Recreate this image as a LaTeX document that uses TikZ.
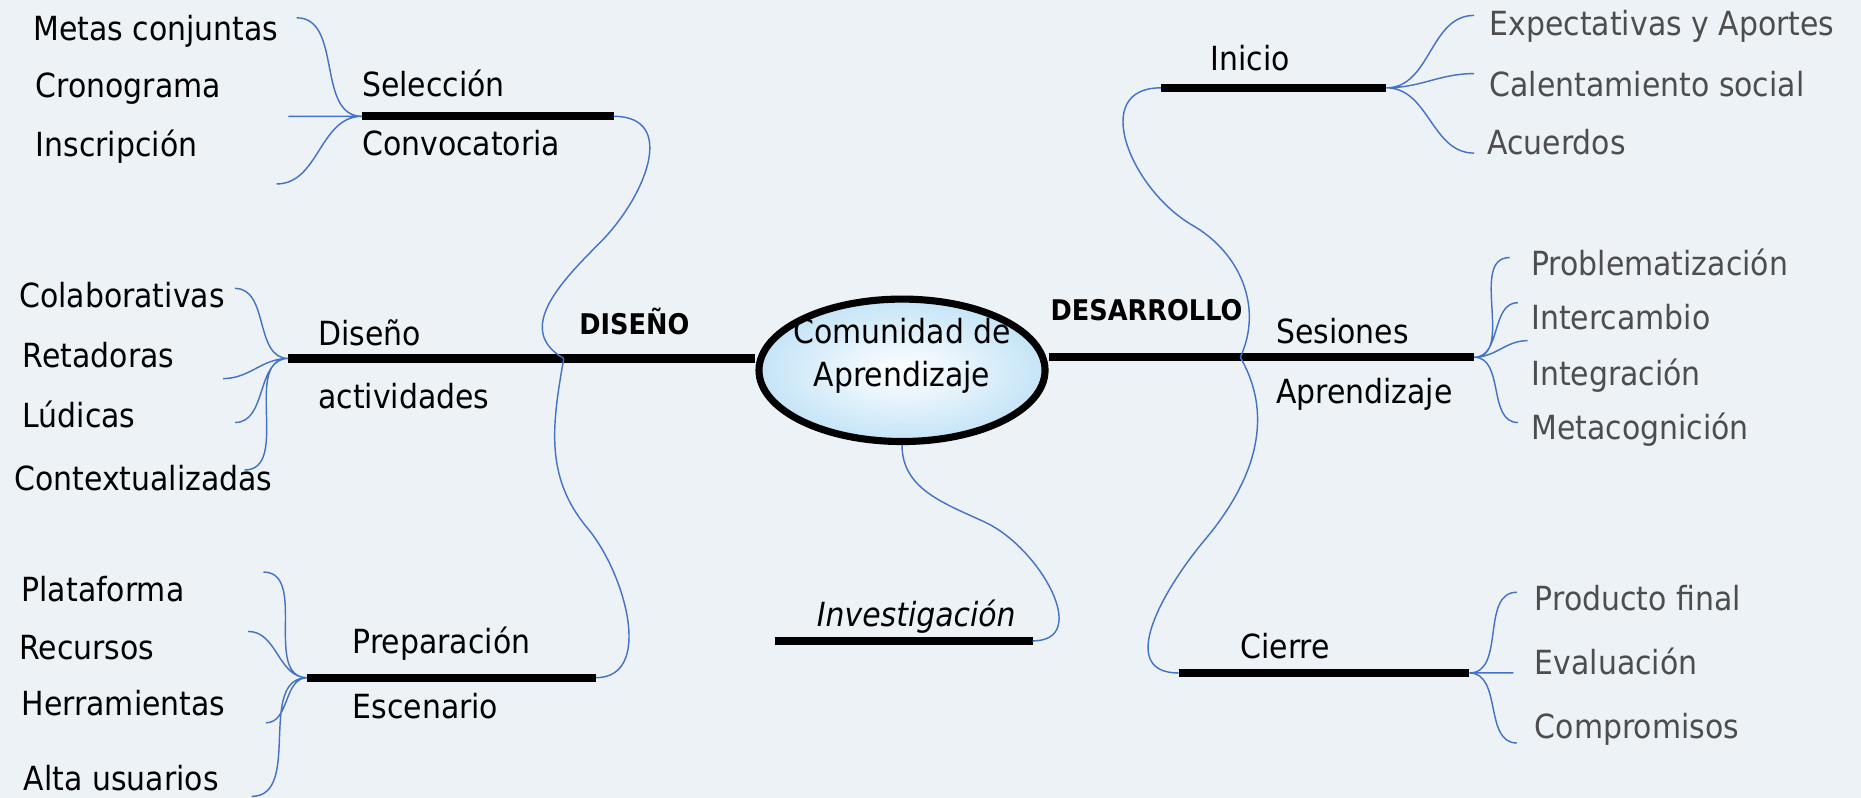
\documentclass[tikz,border=0pt]{standalone}
\usepackage{fontspec}
\setmainfont{DejaVu Sans}[FakeStretch=0.9]
\usetikzlibrary{shapes.geometric}
\definecolor{fondo}{HTML}{EDF2F7}
\definecolor{azulrama}{HTML}{4472C4}
\definecolor{gristexto}{HTML}{4D4D4D}
\definecolor{celeste}{HTML}{C4E4F7}
\tikzset{
  eje/.style={line width=7pt},
  ramita/.style={draw=azulrama, line width=1.2pt},
  ese/.style={out=0, in=180},
  txt/.style={anchor=base west, inner sep=0pt, font=\fontsize{28}{34}\selectfont},
  sub/.style={txt, text=gristexto},
  tit/.style={anchor=base west, inner sep=0pt, font=\bfseries\fontsize{24}{28}\selectfont},
  hub/.style={ellipse, draw, line width=6pt, minimum width=241pt, minimum height=120pt,
    inner sep=0pt, inner color=white, outer color=celeste}
}

\begin{document}
\begin{tikzpicture}[x=1pt, y=1pt]
		\path[use as bounding box, fill=fondo] (0,0) rectangle (1568,-672);
		\coordinate (selL) at (305,-98);
		\coordinate (selR) at (517,-98);
		\coordinate (disL) at (243,-302);
		\coordinate (disJ) at (475,-302);
		\coordinate (prepL) at (259,-571);
		\coordinate (prepR) at (502,-571);
		\coordinate (invL) at (653,-540);
		\coordinate (invR) at (870,-540);
		\coordinate (iniL) at (978,-74);
		\coordinate (iniR) at (1168,-74);
		\coordinate (desJ) at (1045,-301);
		\coordinate (sesR) at (1242,-301);
		\coordinate (ciL) at (993,-567);
		\coordinate (ciR) at (1238,-567);
		\coordinate (metasE) at (250,-15);
		\coordinate (cronoE) at (243,-98);
		\coordinate (inscE) at (233,-155);
		\coordinate (colabE) at (198,-243);
		\coordinate (retadE) at (188,-319);
		\coordinate (ludicE) at (198,-356);
		\coordinate (contxE) at (206,-396);
		\coordinate (plataE) at (222,-482);
		\coordinate (recurE) at (209,-532);
		\coordinate (herraE) at (224,-609);
		\coordinate (altauE) at (212,-671);
		\coordinate (expecE) at (1242,-13);
		\coordinate (calenE) at (1242,-62);
		\coordinate (acuerE) at (1242,-129);
		\coordinate (problE) at (1272,-217);
		\coordinate (interE) at (1279,-255);
		\coordinate (integE) at (1287,-287);
		\coordinate (metacE) at (1279,-356);
		\coordinate (produE) at (1278,-499);
		\coordinate (evaluE) at (1275,-567);
		\coordinate (comprE) at (1278,-626);
		\node[hub] (com) at (760,-312) {};
		\node[align=center, font=\fontsize{28}{36}\selectfont] (comTxt) at (760,-300) {Comunidad de\\Aprendizaje};
		\draw[eje] (selL) -- (selR);
		\draw[eje] (disL) -- (disL -| com.west);
		\draw[eje] (com.east |- desJ) -- (sesR);
		\draw[eje] (prepL) -- (prepR);
		\draw[eje] (invL) -- (invR);
		\draw[eje] (iniL) -- (iniR);
		\draw[eje] (ciL) -- (ciR);
		\draw[ramita] (metasE) to[ese] (selL) (inscE) to[ese] (selL) (cronoE) -- (selL);
		\draw[ramita] (colabE) to[ese] (disL) (retadE) to[ese] (disL) (ludicE) to[ese] (disL) (contxE) to[ese] (disL);
		\draw[ramita] (plataE) to[ese] (prepL) (recurE) to[ese] (prepL) (herraE) to[ese] (prepL) (altauE) to[ese] (prepL);
		\draw[ramita] (iniR) to[ese] (expecE) (iniR) to[ese] (calenE) (iniR) to[ese] (acuerE);
		\draw[ramita] (sesR) to[ese] (problE) (sesR) to[ese] (interE) (sesR) to[ese] (integE) (sesR) to[ese] (metacE);
		\draw[ramita] (ciR) to[ese] (produE) (ciR) to[ese] (comprE) (ciR) -- (evaluE);
		\draw[ramita] (selR) to[out=0, in=45, looseness=1.3] (505,-205) to[out=-135, in=150, looseness=1.2] (disJ);
		\draw[ramita] (disJ) to[out=-100, in=130] (495,-445) to[out=-50, in=0] (prepR);
		\draw[ramita] (com.south) to[out=-90, in=155] (830,-440) to[out=-25, in=0, looseness=1.2] (invR);
		\draw[ramita] (iniL) to[out=180, in=150, looseness=1.3] (1005,-190) to[out=-30, in=65] (desJ);
		\draw[ramita] (desJ) to[out=-60, in=50] (1015,-455) to[out=-130, in=180, looseness=1.2] (ciL);
		\node[txt] (metas) at (28,-34) {Metas conjuntas};
		\node[txt] (crono) at (30,-82) {Cronograma};
		\node[txt] (insc) at (30,-132) {Inscripción};
		\node[txt] (selec) at (305,-81) {Selección};
		\node[txt] (convo) at (305,-131) {Convocatoria};
		\node[txt] (colab) at (16,-259) {Colaborativas};
		\node[txt] (retad) at (19,-310) {Retadoras};
		\node[txt] (ludic) at (19,-360) {Lúdicas};
		\node[txt] (contx) at (12,-413) {Contextualizadas};
		\node[txt] (disen) at (268,-291) {Diseño};
		\node[txt] (activ) at (268,-344) {actividades};
		\node[tit] (disTit) at (488,-282) {DISEÑO};
		\node[txt] (plata) at (18,-507) {Plataforma};
		\node[txt] (recur) at (16,-556) {Recursos};
		\node[txt] (herra) at (18,-603) {Herramientas};
		\node[txt] (altau) at (20,-666) {Alta usuarios};
		\node[txt] (prepa) at (297,-551) {Preparación};
		\node[txt] (escen) at (297,-605) {Escenario};
		\node[txt, font=\itshape\fontsize{28}{34}\selectfont] (inves) at (688,-528) {Investigación};
		\node[tit] (desTit) at (885,-270) {DESARROLLO};
		\node[txt] (inicio) at (1020,-59) {Inicio};
		\node[sub] (expec) at (1255,-30) {Expectativas y Aportes};
		\node[sub] (calen) at (1255,-81) {Calentamiento social};
		\node[sub] (acuer) at (1253,-130) {Acuerdos};
		\node[txt] (sesio) at (1075,-289) {Sesiones};
		\node[txt] (aprend) at (1075,-340) {Aprendizaje};
		\node[sub] (probl) at (1290,-232) {Problematización};
		\node[sub] (inter) at (1290,-278) {Intercambio};
		\node[sub] (integ) at (1290,-325) {Integración};
		\node[sub] (metac) at (1290,-370) {Metacognición};
		\node[txt] (cierre) at (1045,-555) {Cierre};
		\node[sub] (produ) at (1293,-514) {Producto final};
		\node[sub] (evalu) at (1293,-568) {Evaluación};
		\node[sub] (compr) at (1293,-622) {Compromisos};
	\end{tikzpicture}
\end{document}
